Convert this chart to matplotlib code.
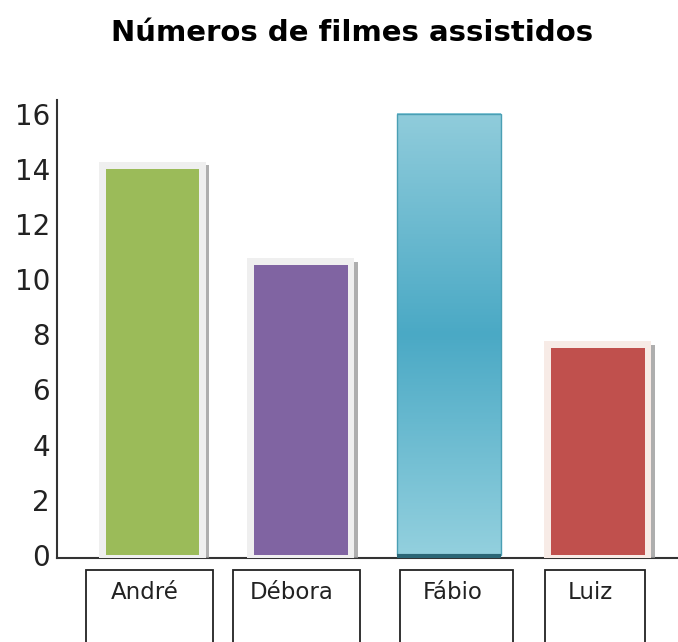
import matplotlib
matplotlib.use("Agg")
import matplotlib.pyplot as plt
import matplotlib.patheffects as pe
import matplotlib.transforms as mtransforms
from matplotlib.colors import LinearSegmentedColormap
from matplotlib.patches import Rectangle
import numpy as np

# dados
nomes = ["André", "Débora", "Fábio", "Luiz"]
filmes = [14, 10.5, 16, 7.5]
cores = ["#9bbb59", "#8064a2", "#4bacc6", "#c0504d"]
bordas = ["#efefef", "#efefef", None, "#f7ebe6"]
marcas_y = [0, 2, 4, 6, 8, 10, 12, 14, 16]

fig = plt.figure(figsize=(6.78, 6.42), dpi=100)
ax = fig.add_axes([0.0841, 0.1308, 0.9159, 0.7134])
ax.set_xlim(-0.643, 3.54)
ax.set_ylim(-0.11, 16.49)

x = np.arange(len(nomes))
for i in range(len(nomes)):
    if bordas[i] is None:
        # barra com degradê (Fábio)
        w = 0.70
        cmap = LinearSegmentedColormap.from_list(
            "grad", ["#93d0de", "#4aa9c5", "#90ccdb"])
        grad = np.linspace(0, 1, 256).reshape(-1, 1)
        ax.imshow(grad, cmap=cmap, aspect="auto",
                  extent=[x[i] - w / 2, x[i] + w / 2, filmes[i], 0], zorder=2)
        ax.add_patch(Rectangle((x[i] - w / 2, 0), w, filmes[i], fill=False,
                               edgecolor="#4a9fb4", linewidth=1, zorder=3))
        ax.plot([x[i] - w / 2, x[i] + w / 2], [-0.02, -0.02],
                color="#2b6676", linewidth=3, zorder=4, solid_capstyle="butt")
    else:
        fundo = ax.bar(x[i], filmes[i] + 0.5, bottom=-0.25, width=0.72,
                       color=bordas[i], zorder=2)
        for p in fundo:
            p.set_path_effects([pe.SimplePatchShadow(offset=(2.5, -2.5),
                                                     shadow_rgbFace="#9a9a9a",
                                                     alpha=0.8),
                                pe.Normal()])
        ax.bar(x[i], filmes[i], width=0.63, color=cores[i], zorder=3)

# eixos
for lado in ["top", "right"]:
    ax.spines[lado].set_visible(False)
ax.spines["left"].set_color("#333333")
ax.spines["bottom"].set_color("#333333")
ax.spines["left"].set_linewidth(1.5)
ax.spines["bottom"].set_linewidth(1.5)
ax.spines["bottom"].set_zorder(1)
ax.set_yticks(marcas_y)
ax.set_yticklabels([str(v) for v in marcas_y], fontsize=20, color="#222222")
ax.tick_params(axis="y", length=0, pad=5)
ax.set_xticks([])

# caixas com os nomes
trans = mtransforms.blended_transform_factory(ax.transData, ax.transAxes)
larguras = [0.855, 0.855, 0.76, 0.67]
centros = [-0.02, 0.97, 2.05, 2.98]
for i in range(len(nomes)):
    ax.add_patch(Rectangle((centros[i] - larguras[i] / 2, -0.20), larguras[i], 0.174,
                           transform=trans, clip_on=False, fill=False,
                           edgecolor="#222222", linewidth=1.3))
    ax.text(centros[i] - 0.03, -0.075, nomes[i], transform=trans, ha="center",
            va="center", fontsize=16.5, color="#222222")

fig.text(0.52, 0.949, "Números de filmes assistidos", fontsize=21,
         fontweight="bold", ha="center", va="center")

fig.savefig("out.png", dpi=100)
